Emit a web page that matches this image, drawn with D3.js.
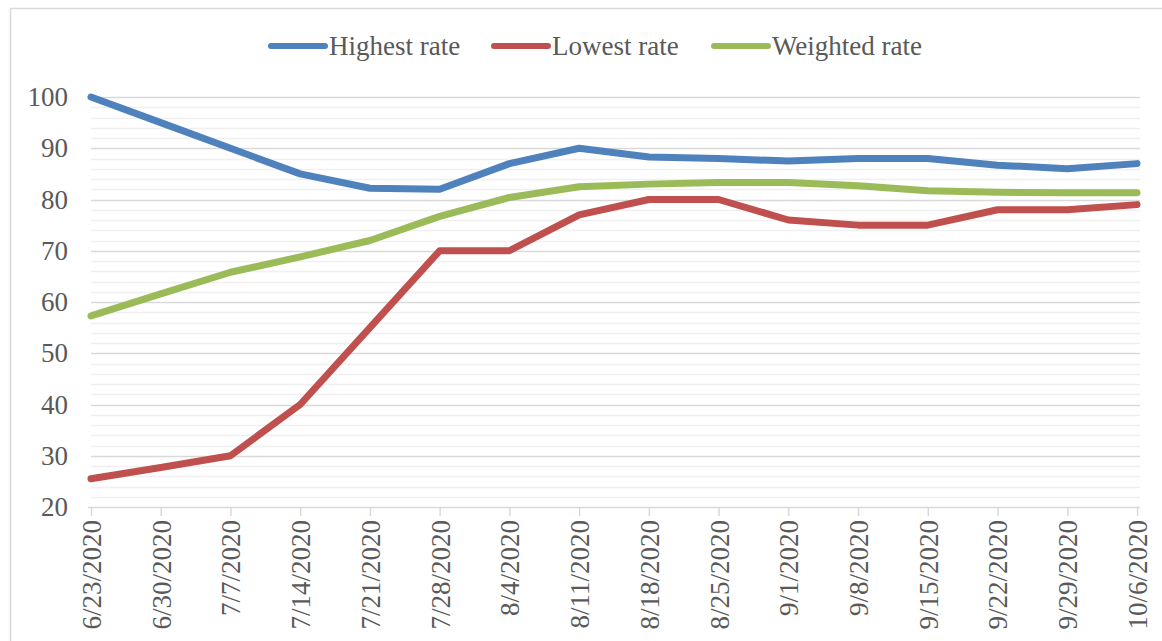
<!DOCTYPE html>
<html>
<head>
<meta charset="utf-8">
<script src="https://cdn.jsdelivr.net/npm/d3@7"></script>
<style>
  body { margin: 0; background: #fff; }
  svg { display: block; }
</style>
</head>
<body>
<script>
(function() {

  // weekly dates on the x axis
  let dates = ["6/23/2020", "6/30/2020", "7/7/2020", "7/14/2020", "7/21/2020", "7/28/2020",
    "8/4/2020", "8/11/2020", "8/18/2020", "8/25/2020", "9/1/2020", "9/8/2020",
    "9/15/2020", "9/22/2020", "9/29/2020", "10/6/2020"];

  let highest = [100, 95, 90, 85, 82.2, 82, 87, 90, 88.3, 88, 87.5, 88, 88, 86.7, 86, 87];
  let lowest = [25.5, 27.7, 30, 40, 55, 70, 70, 77, 80, 80, 76, 75, 75, 78, 78, 79];
  let weighted = [57.3, 61.6, 65.8, 68.8, 72, 76.7, 80.4, 82.5, 83, 83.3, 83.3, 82.7, 81.7, 81.4, 81.3, 81.3];

  let seriesNames = ["Highest rate", "Lowest rate", "Weighted rate"];
  let yTicks = [20, 30, 40, 50, 60, 70, 80, 90, 100];

  let colors = ["#4f81bd", "#c0504d", "#9bbb59"];
  let font = "'Liberation Serif', 'Times New Roman', serif";

  let svg = d3.select("body")
    .append("svg")
    .attr("width", 1162)
    .attr("height", 641);

  // chart frame
  svg.append("rect")
    .attr("x", 10.5)
    .attr("y", 8.5)
    .attr("width", 1160)
    .attr("height", 650)
    .attr("fill", "#fff")
    .attr("stroke", "#d9d9d9")
    .attr("stroke-width", 1.5);

  let xScale = d3.scalePoint()
    .domain(dates)
    .range([91, 1137]);

  let yScale = d3.scaleLinear()
    .domain([20, 100])
    .range([507, 97]);

  // minor gridlines every 2
  svg.append("g")
    .selectAll("line")
    .data(d3.range(22, 100, 2).filter((v) => v % 10 != 0))
    .enter()
    .append("line")
      .attr("x1", 91)
      .attr("x2", 1140)
      .attr("y1", (d) => Math.round(yScale(d)) + 0.5)
      .attr("y2", (d) => Math.round(yScale(d)) + 0.5)
      .attr("stroke", "#f0f0f0")
      .attr("stroke-width", 1.5);

  // major gridlines
  svg.append("g")
    .selectAll("line")
    .data(yTicks.slice(1))
    .enter()
    .append("line")
      .attr("x1", 91)
      .attr("x2", 1140)
      .attr("y1", (d) => Math.round(yScale(d)) + 0.5)
      .attr("y2", (d) => Math.round(yScale(d)) + 0.5)
      .attr("stroke", "#d9d9d9")
      .attr("stroke-width", 1.5);

  // y axis labels
  let yAxis = d3.axisLeft(yScale).tickValues(yTicks).tickSize(0).tickPadding(23);
  let yg = svg.append("g")
    .attr("transform", "translate(91, 0)")
    .call(yAxis);
  yg.select(".domain").remove();
  yg.selectAll("text")
    .style("font-family", font)
    .style("font-size", "27px")
    .attr("fill", "#595959");

  // x axis
  let xAxis = d3.axisBottom(xScale).tickSize(9).tickPadding(5);
  let xg = svg.append("g")
    .attr("transform", "translate(0, " + Math.round(yScale(20)) + ")")
    .call(xAxis);
  xg.select(".domain")
    .attr("d", "M88,0.5H1140")
    .attr("stroke", "#d9d9d9")
    .attr("stroke-width", 1.5);
  xg.selectAll(".tick line")
    .attr("stroke", "#d9d9d9")
    .attr("stroke-width", 1.5);
  xg.selectAll("text")
    .style("font-family", font)
    .style("font-size", "27px")
    .attr("fill", "#595959")
    .attr("text-anchor", "end")
    .attr("transform", "rotate(-90)")
    .attr("x", -13)
    .attr("y", 0)
    .attr("dy", "0.35em");

  // lines
  let line = d3.line()
    .x((d, i) => xScale(dates[i]))
    .y((d) => yScale(d));

  let allSeries = [highest, lowest, weighted];
  svg.append("g")
    .selectAll("path")
    .data(allSeries)
    .enter()
    .append("path")
      .attr("d", line)
      .attr("fill", "none")
      .attr("stroke", (d, i) => colors[i])
      .attr("stroke-width", 7)
      .attr("stroke-linecap", "round")
      .attr("stroke-linejoin", "round");

  // legend
  let legendX = [268, 491, 711];
  let legend = svg.append("g")
    .selectAll("g")
    .data(seriesNames)
    .enter()
    .append("g")
      .attr("transform", (d, i) => "translate(" + legendX[i] + ", 46)");
  legend.append("line")
    .attr("x1", 3)
    .attr("x2", 57)
    .attr("y1", 0)
    .attr("y2", 0)
    .attr("stroke", (d, i) => colors[i])
    .attr("stroke-width", 6)
    .attr("stroke-linecap", "round");
  legend.append("text")
    .attr("x", 61)
    .attr("y", 0)
    .attr("dy", "0.33em")
    .style("font-family", font)
    .style("font-size", "27px")
    .attr("fill", "#595959")
    .text((d) => d);

})();
</script>
</body>
</html>
